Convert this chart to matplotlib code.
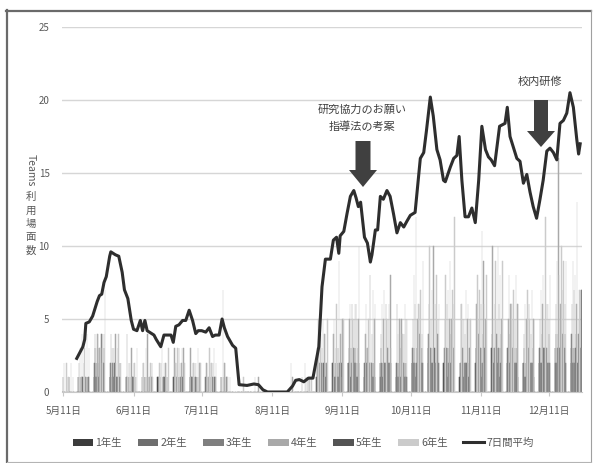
import pandas as pd
import matplotlib
matplotlib.use("Agg")
import matplotlib.pyplot as plt
from matplotlib.patches import Polygon, Patch
from matplotlib.lines import Line2D

plt.rcParams['font.family'] = ['Noto Sans CJK JP', 'DejaVu Sans']

W, H = 595, 463
start = pd.Timestamp('2020-05-11')
n_days = 229

grades = ['1年生', '2年生', '3年生', '4年生', '5年生', '6年生']
colors = ['#3c3c3c', '#6e6e6e', '#7f7f7f', '#a9a9a9', '#545454', '#cbcbcb']

# Mon-Fri counts, one row per week (weekends are zero)
g1 = [[0,0,0,1,0],[1,0,1,0,1],[1,2,1,2,1],[1,1,2,1,0],[0,1,0,1,0],[0,1,0,0,1],
      [1,0,0,1,0],[1,0,1,0,1],[0,1,0,1,0],[0,0,1,0,1],[1,0,0,0,0],[0,0,0,0,0],
      [0,0,0,0,0],[0,0,0,0,0],[0,0,0,0,0],[0,0,0,0,0],[1,2,1,2,1],[2,1,2,1,2],
      [2,1,2,3,1],[1,2,1,1,2],[2,1,2,2,1],[1,2,1,1,2],[2,3,2,2,3],[3,2,2,3,2],
      [2,2,3,2,2],[1,2,1,2,1],[2,3,2,2,3],[3,2,2,3,2],[2,2,3,2,2],[2,1,2,1,2],
      [2,2,3,2,2],[3,2,3,3,2],[2,3,3,2,1]]
g2 = [[0,0,0,0,0],[0,1,0,1,0],[2,1,2,1,2],[1,2,1,1,1],[1,0,1,0,1],[1,0,0,1,0],
      [0,1,0,0,1],[1,1,0,1,0],[1,0,1,0,0],[1,0,0,1,0],[0,1,0,0,0],[0,0,0,0,0],
      [0,0,0,0,0],[0,0,0,0,0],[0,0,0,0,0],[0,0,0,0,0],[2,1,2,1,2],[1,2,1,2,1],
      [2,3,1,2,2],[2,1,2,2,1],[1,2,2,1,2],[2,1,1,2,1],[2,2,3,2,2],[2,3,2,2,3],
      [2,3,2,2,2],[2,1,2,1,2],[3,2,3,2,2],[2,3,2,3,3],[3,2,2,2,3],[2,2,1,2,2],
      [3,2,2,3,2],[2,3,3,2,3],[3,2,3,2,2]]
g3 = [[1,0,0,0,0],[1,1,0,1,1],[3,2,3,4,3],[2,1,2,1,2],[1,1,0,1,0],[0,1,1,0,1],
      [1,0,1,0,0],[0,1,1,1,0],[1,1,0,1,1],[0,1,0,0,1],[0,0,1,0,0],[0,0,0,0,0],
      [0,0,0,0,0],[0,0,0,0,0],[0,0,0,0,0],[0,0,0,1,0],[1,2,2,1,2],[2,1,3,2,1],
      [3,2,3,2,3],[2,3,2,1,2],[3,2,2,3,2],[2,2,3,2,2],[3,2,3,4,3],[4,3,3,2,4],
      [3,3,2,4,3],[2,3,2,2,3],[3,4,3,4,3],[4,3,4,3,4],[3,4,3,3,3],[3,2,3,2,3],
      [3,4,3,3,4],[4,4,3,4,4],[4,3,4,4,3]]
g4 = [[0,0,1,0,0],[2,1,2,1,1],[4,4,3,4,4],[4,3,4,3,2],[4,2,3,2,1],[2,1,4,1,2],
      [1,2,1,2,1],[3,2,3,2,3],[3,2,2,1,2],[2,1,2,2,1],[1,2,1,0,0],[0,0,0,0,0],
      [0,0,1,0,0],[0,0,0,0,0],[0,0,0,1,0],[1,0,1,0,0],[3,2,3,4,2],[4,3,2,4,5],
      [5,6,5,6,5],[4,3,8,4,5],[4,5,6,5,8],[6,5,5,4,5],[5,6,5,6,4],[6,5,10,6,5],
      [5,6,5,5,6],[6,5,4,5,5],[6,5,6,9,5],[10,6,5,6,5],[5,6,5,5,6],[4,5,6,4,5],
      [5,6,5,6,5],[6,16,6,7,6],[6,7,6,5,7]]
g5 = [[0,0,0,0,0],[0,1,0,0,1],[1,0,1,1,0],[0,1,0,1,0],[0,0,1,0,0],[0,0,0,1,0],
      [0,0,1,0,0],[0,1,0,0,1],[0,0,1,0,0],[0,1,0,0,0],[0,0,0,0,0],[0,0,0,0,0],
      [0,0,0,0,0],[0,0,0,0,0],[0,0,0,0,0],[0,0,0,0,0],[1,1,0,1,1],[1,2,1,1,2],
      [1,2,2,1,2],[1,1,2,1,1],[2,1,1,2,2],[1,1,2,1,1],[2,1,2,1,2],[2,2,1,2,2],
      [2,1,2,1,2],[1,1,2,1,1],[2,2,1,2,2],[2,2,2,1,2],[1,2,2,2,1],[1,2,1,2,1],
      [2,1,2,2,2],[2,2,2,1,2],[2,2,2,1,7]]
g6 = [[2,2,1,2,1],[3,4,3,4,3],[3,4,3,2,7],[3,3,2,4,2],[1,2,1,2,3],[2,3,1,2,1],
      [2,3,2,2,3],[2,3,2,3,2],[1,2,2,3,2],[2,3,2,3,2],[7,2,1,1,0],[0,0,1,0,0],
      [1,0,0,0,0],[0,0,0,0,0],[0,0,2,0,0],[0,2,0,1,1],[5,4,5,4,5],[5,6,9,5,5],
      [6,5,6,5,10],[6,5,2,7,6],[6,7,5,6,3],[4,5,4,6,5],[8,12,6,7,9],[10,7,6,8,6],
      [8,7,9,7,12],[6,5,7,6,5],[8,7,11,6,8],[5,9,10,8,9],[8,6,7,8,6],[6,7,5,7,5],
      [7,8,12,6,8],[9,8,10,9,9],[9,8,13,7,7]]

# 7-day average, read at its turning points (days after 5/11)
avg_days = [6, 8.7, 9.5, 10, 11.5, 13, 15, 16, 17, 18, 19, 20.5, 21, 22, 23, 24.5,
            26, 27, 28.5, 30, 31, 32.5, 34, 35, 36, 37, 38, 40, 41, 43, 44.4, 46,
            47.5, 48.5, 49.6, 51, 52.6, 54, 55.5, 57, 58.4, 59.5, 61, 62.8, 64.3,
            65.8, 67, 68.7, 70, 71, 72.4, 74.6, 76, 77.5, 81, 84, 86, 88, 90, 98.7,
            101, 102.4, 104, 106, 108, 110, 112.6, 114, 115.5, 117.7, 119, 120.4,
            121.4, 122, 123.6, 125, 126.5, 128, 129, 130, 131, 132.7, 134, 135.3,
            136, 137.5, 138.5, 139.7, 141, 142.6, 144, 145.5, 147, 148.5, 150, 151.4,
            152.9, 155, 157.3, 158.8, 160, 161.7, 163, 164.6, 166, 167.5, 168.3,
            170.5, 172, 173.4, 174.4, 175.6, 177, 178.5, 180, 181.5, 183, 184.4, 186,
            187.3, 188.5, 190, 192.2, 194.6, 195.6, 196.8, 198, 199.8, 201.2, 202.7,
            204.2, 205.6, 207, 208.5, 210, 211.4, 213, 214.4, 215.9, 217.4, 218.8,
            220.3, 221.8, 223.2, 224.7, 226.2, 227, 227.7]
avg_vals = [2.3, 3.1, 3.6, 4.7, 4.8, 5.2, 6.2, 6.6, 6.7, 7.5, 7.9, 9.3, 9.6, 9.5, 9.4, 9.3,
            8.2, 7.0, 6.4, 4.9, 4.3, 4.2, 4.9, 4.2, 4.9, 4.2, 4.1, 3.9, 3.6, 3.1, 3.9, 3.9,
            3.9, 3.4, 4.5, 4.6, 4.9, 4.9, 5.6, 4.9, 4.0, 4.2, 4.2, 4.1, 4.4,
            3.8, 3.9, 3.9, 5.0, 4.4, 3.8, 3.2, 3.0, 0.5, 0.45, 0.55, 0.5, 0.15, 0.0, 0.0,
            0.4, 0.8, 0.85, 0.7, 0.95, 0.95, 3.1, 7.2, 9.1, 9.1, 10.4, 10.6,
            9.5, 10.7, 11.0, 12.2, 13.4, 13.8, 13.3, 12.7, 13.0, 10.6, 10.2, 8.9,
            9.4, 11.1, 11.1, 13.4, 13.2, 13.8, 13.4, 12.2, 10.9, 11.6, 11.3, 11.7,
            12.1, 12.3, 16.0, 16.4, 17.9, 20.2, 18.9, 16.6, 15.9, 14.5, 14.4,
            15.4, 16.0, 16.2, 17.5, 14.5, 12.0, 12.0, 12.6, 11.6, 14.5, 18.2, 16.6,
            16.1, 15.9, 15.5, 18.2, 18.4, 19.5, 17.5, 16.9, 16.0, 15.8, 14.3,
            14.9, 13.7, 12.7, 11.9, 13.2, 14.5, 16.5, 16.7, 16.4, 15.9, 18.4,
            18.6, 19.1, 20.5, 19.5, 17.3, 16.3, 17.0]

tick_months = [5, 6, 7, 8, 9, 10, 11, 12]
tick_labels = [f'{m}月11日' for m in tick_months]
tick_days = [(pd.Timestamp(2020, m, 11) - start).days for m in tick_months]


def daily(weeks):
    vals = []
    for wk in weeks:
        vals += wk + [0, 0]
    return vals[:n_days]


def px(x, y):
    return x / W, 1 - y / H


def block_arrow(cx, top, bottom, shaft_w, head_w, head_h):
    neck = bottom - head_h
    pts = [(cx - shaft_w / 2, top), (cx + shaft_w / 2, top), (cx + shaft_w / 2, neck),
           (cx + head_w / 2, neck), (cx, bottom), (cx - head_w / 2, neck),
           (cx - shaft_w / 2, neck)]
    fig.add_artist(Polygon([px(*p) for p in pts], closed=True,
                           transform=fig.transFigure, facecolor='#404040',
                           edgecolor='none'))


fig = plt.figure(figsize=(W / 100, H / 100), dpi=100, facecolor='white')
ax = fig.add_axes([62 / W, 1 - 392 / H, 520 / W, 365 / H])

# clustered columns, six per day; thin edges keep the hairline bars visible,
# darker grades go down first so the light ones stay on top
days = list(range(n_days))
bw = 1.0 / len(grades)
order = [0, 4, 1, 2, 3, 5]
all_grades = [g1, g2, g3, g4, g5, g6]
for i in order:
    c = colors[i]
    ax.bar([d + (i - 2.5) * bw for d in days], daily(all_grades[i]), width=bw,
           color=c, edgecolor=c, linewidth=0.35, label=grades[i], zorder=2)

ax.plot(avg_days, avg_vals, color='#2e2e2e', lw=2.2, solid_joinstyle='round',
        zorder=4, label='7日間平均')

ax.set_xlim(-0.5, 228.5)
ax.set_ylim(0, 25)
ax.set_yticks([0, 5, 10, 15, 20, 25])
ax.set_xticks(tick_days)
ax.set_xticklabels(tick_labels)
ax.yaxis.grid(True, color='#d6d6d6', lw=1.0, zorder=0)
ax.set_axisbelow(True)
for s in ['top', 'right', 'left']:
    ax.spines[s].set_visible(False)
ax.spines['bottom'].set_color('#c8c8c8')
ax.tick_params(axis='y', length=0, pad=9, labelsize=7, labelcolor='#595959')
ax.tick_params(axis='x', length=3, color='#c8c8c8', pad=7, labelsize=7,
               labelcolor='#595959')

# vertical axis title: "Teams" turned, the kanji stacked upright
fig.text(*px(31, 170), 'Teams', rotation=270, ha='center', va='center',
         fontsize=7.5, color='#595959')
for k, ch in enumerate('利用場面数'):
    fig.text(*px(31, 197 + k * 13.5), ch, ha='center', va='center', fontsize=7.5,
             color='#595959')

# event markers
fig.text(*px(362, 110), '研究協力のお願い', ha='center', va='center', fontsize=8,
         color='#404040')
fig.text(*px(362, 127), '指導法の考案', ha='center', va='center', fontsize=8,
         color='#404040')
block_arrow(363, 141, 187, 15, 28, 17)
fig.text(*px(540, 82), '校内研修', ha='center', va='center', fontsize=8,
         color='#404040')
block_arrow(541, 100, 147, 14, 28, 16)

handles = [Patch(facecolor=c, edgecolor='none', label=g) for g, c in zip(grades, colors)]
handles.append(Line2D([], [], color='#2e2e2e', lw=2.2, label='7日間平均'))
leg = fig.legend(handles=handles, ncol=7, loc='center', bbox_to_anchor=px(303, 443),
                 frameon=False, fontsize=7.5, handlelength=2.0, handleheight=0.7,
                 handletextpad=0.2, columnspacing=1.5, labelcolor='#595959')

# picture frame
fig.add_artist(Line2D([7 / W, 7 / W], [1 - 10 / H, 1 - 462 / H], color='#6a6a6a',
                      lw=1.6, transform=fig.transFigure))
fig.add_artist(Line2D([6 / W, 591 / W], [1 - 10.5 / H, 1 - 10.5 / H], color='#6a6a6a',
                      lw=1.6, transform=fig.transFigure))
fig.add_artist(Line2D([590.5 / W, 590.5 / W], [1 - 10 / H, 1 - 462 / H],
                      color='#a0a0a0', lw=0.8, transform=fig.transFigure))
fig.add_artist(Line2D([7 / W, 591 / W], [1 - 461.5 / H, 1 - 461.5 / H],
                      color='#b4b4b4', lw=0.8, transform=fig.transFigure))

fig.savefig('out.png', dpi=100, facecolor='white')
